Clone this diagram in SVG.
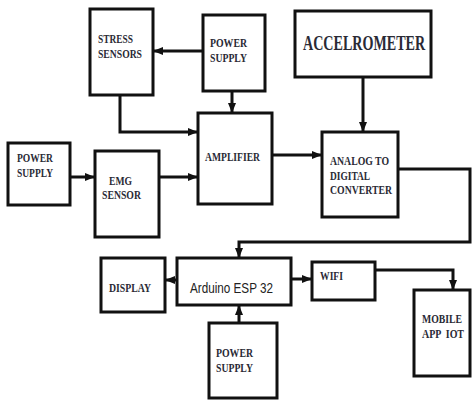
<svg xmlns="http://www.w3.org/2000/svg" width="473" height="400" viewBox="0 0 473 400">
<style>
.box{fill:#fff;stroke:#111;stroke-width:3}
.t{font-family:"Liberation Serif","Times New Roman",serif;font-weight:bold;font-size:12px;fill:#2a2a35}
.big{font-size:20px}
.s{font-family:"Liberation Sans",Arial,sans-serif;font-size:15px;fill:#222}
.c{fill:none;stroke:#111;stroke-width:3;marker-end:url(#ah)}
</style>
<defs>
<marker id="ah" markerUnits="userSpaceOnUse" markerWidth="10" markerHeight="10" viewBox="0 0 10 10" refX="9" refY="5" orient="auto">
<path d="M0,1 L10,5 L0,9 Z" fill="#111"/>
</marker>
</defs>
<g id="connectors">
<path class="c" d="M203,51 H154"/>
<path class="c" d="M232,91 V112"/>
<path class="c" d="M120,95 V132 H197"/>
<path class="c" d="M70,177 H94"/>
<path class="c" d="M159,177 H197"/>
<path class="c" d="M272,155 H321"/>
<path class="c" d="M363,77 V131"/>
<path class="c" d="M398,169 H470 V242 H239 V257"/>
<path class="c" d="M177,280 H166"/>
<path class="c" d="M239,323 V306"/>
<path class="c" d="M291,279 H311"/>
<path class="c" d="M375,270 H453 V289"/>
</g>
<g id="stress"><rect class="box" x="90" y="9" width="63" height="86"/><text class="t" x="98" y="43" textLength="35" lengthAdjust="spacingAndGlyphs">STRESS</text><text class="t" x="98" y="58" textLength="44" lengthAdjust="spacingAndGlyphs">SENSORS</text></g>
<g id="power1"><rect class="box" x="203" y="15" width="62" height="76"/><text class="t" x="210" y="47" textLength="37" lengthAdjust="spacingAndGlyphs">POWER</text><text class="t" x="210" y="62" textLength="37" lengthAdjust="spacingAndGlyphs">SUPPLY</text></g>
<g id="accel"><rect class="box" x="295" y="11" width="136" height="66"/><text class="t big" transform="translate(303,50) scale(0.705,1)" x="0" y="0">ACCELROMETER</text></g>
<g id="power2"><rect class="box" x="8" y="143" width="62" height="62"/><text class="t" x="17" y="162" textLength="36" lengthAdjust="spacingAndGlyphs">POWER</text><text class="t" x="17" y="177" textLength="36" lengthAdjust="spacingAndGlyphs">SUPPLY</text></g>
<g id="emg"><rect class="box" x="95" y="151" width="64" height="86"/><text class="t" x="109" y="185" textLength="23" lengthAdjust="spacingAndGlyphs">EMG</text><text class="t" x="102" y="199" textLength="39" lengthAdjust="spacingAndGlyphs">SENSOR</text></g>
<g id="amp"><rect class="box" x="198" y="113" width="74" height="91"/><text class="t" x="205" y="161" textLength="55" lengthAdjust="spacingAndGlyphs">AMPLIFIER</text></g>
<g id="adc"><rect class="box" x="322" y="132" width="76" height="85"/><text class="t" x="330" y="165" textLength="59" lengthAdjust="spacingAndGlyphs">ANALOG TO</text><text class="t" x="330" y="180" textLength="40" lengthAdjust="spacingAndGlyphs">DIGITAL</text><text class="t" x="330" y="194" textLength="62" lengthAdjust="spacingAndGlyphs">CONVERTER</text></g>
<g id="display"><rect class="box" x="101" y="258" width="64" height="54"/><text class="t" x="109" y="292" textLength="42" lengthAdjust="spacingAndGlyphs">DISPLAY</text></g>
<g id="arduino"><rect class="box" x="177" y="258" width="114" height="47"/><text class="s" x="190" y="293" textLength="83" lengthAdjust="spacingAndGlyphs">Arduino ESP 32</text></g>
<g id="wifi"><rect class="box" x="312" y="262" width="63" height="38"/><text class="t" x="320" y="280" textLength="23" lengthAdjust="spacingAndGlyphs">WIFI</text></g>
<g id="power3"><rect class="box" x="209" y="323" width="68" height="75"/><text class="t" x="216" y="357" textLength="37" lengthAdjust="spacingAndGlyphs">POWER</text><text class="t" x="216" y="372" textLength="37" lengthAdjust="spacingAndGlyphs">SUPPLY</text></g>
<g id="mobile"><rect class="box" x="414" y="290" width="56" height="86"/><text class="t" x="422" y="323" textLength="40" lengthAdjust="spacingAndGlyphs">MOBILE</text><text class="t" x="422" y="338" textLength="42" lengthAdjust="spacingAndGlyphs" xml:space="preserve">APP  IOT</text></g>
</svg>
